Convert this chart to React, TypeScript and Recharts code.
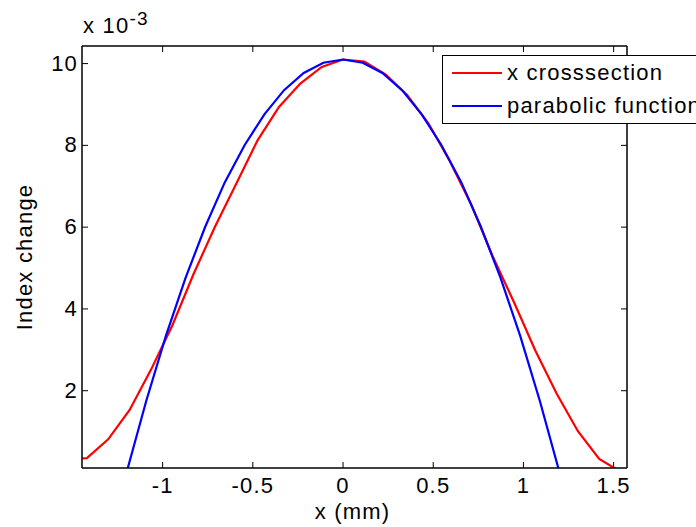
import React from 'react';
import { LineChart, Line, XAxis, YAxis, Legend } from 'recharts';

// x positions (mm) and index change (x 1e-3)
const redX = [
  -1.538, -1.42, -1.302, -1.183, -1.065, -0.947, -0.828, -0.71, -0.592, -0.473, -0.355, -0.237, -0.118,
  0, 0.118, 0.237, 0.355, 0.473, 0.592, 0.71, 0.828, 0.947, 1.065, 1.183, 1.302, 1.42, 1.538,
];
const redY = [
  0.32, 0.35, 0.81, 1.53, 2.51, 3.59, 4.86, 6.01, 7.06, 8.13, 8.94, 9.51, 9.92,
  10.1, 10.05, 9.73, 9.23, 8.54, 7.61, 6.56, 5.3, 4.17, 2.99, 1.94, 1.01, 0.33, 0.02,
];
const blueX = [
  -1.2, -1.091, -0.982, -0.873, -0.764, -0.655, -0.545, -0.436, -0.327, -0.218, -0.109,
  0, 0.109, 0.218, 0.327, 0.436, 0.545, 0.655, 0.764, 0.873, 0.982, 1.091, 1.2,
];
const blueY = [
  0, 1.75, 3.34, 4.76, 6.01, 7.1, 8.01, 8.76, 9.35, 9.77, 10.02,
  10.1, 10.02, 9.77, 9.35, 8.76, 8.01, 7.1, 6.01, 4.76, 3.34, 1.75, 0,
];
const seriesNames = ['x crosssection', 'parabolic function'];
const seriesColors = ['#ff0000', '#0000ff'];
const xTicks = [-1, -0.5, 0, 0.5, 1, 1.5];
const yTicks = [2, 4, 6, 8, 10];

const redData = redX.map((x, i) => ({ x, y: redY[i] }));
const blueData = blueX.map((x, i) => ({ x, y: blueY[i] }));

const X_DOMAIN: [number, number] = [-1.447, 1.574];
const Y_DOMAIN: [number, number] = [0.11, 10.43];

const FONT = '"Liberation Sans", Arial, Helvetica, sans-serif';
const TICK_LEN = 6;
const textStyle: React.CSSProperties = { fontFamily: FONT, fontSize: 22, letterSpacing: 1.2, fill: '#000' };

// MATLAB-style inward ticks
function BottomTick({ x, y, payload }: any) {
  return (
    <g>
      <line x1={x} y1={y} x2={x} y2={y - TICK_LEN} stroke="#000" strokeWidth={1} />
      <text x={x} y={y + 25} textAnchor="middle" style={textStyle}>{String(payload.value)}</text>
    </g>
  );
}

function TopTick({ x, y }: any) {
  return <line x1={x} y1={y} x2={x} y2={y + TICK_LEN} stroke="#000" strokeWidth={1} />;
}

function LeftTick({ x, y, payload }: any) {
  return (
    <g>
      <line x1={x} y1={y} x2={x + TICK_LEN} y2={y} stroke="#000" strokeWidth={1} />
      <text x={x - 4} y={y + 7} textAnchor="end" style={textStyle}>{String(payload.value)}</text>
    </g>
  );
}

function RightTick({ x, y }: any) {
  return <line x1={x} y1={y} x2={x - TICK_LEN} y2={y} stroke="#000" strokeWidth={1} />;
}

function LegendBox({ payload }: any) {
  // keep the plotting order (red first), not alphabetical
  const items = [...(payload || [])].sort(
    (a: any, b: any) => seriesNames.indexOf(a.value) - seriesNames.indexOf(b.value)
  );
  return (
    <div
      style={{
        border: '1.5px solid #000',
        background: '#fff',
        width: 300,
        height: 67,
        fontFamily: FONT,
        fontSize: 22,
        letterSpacing: 1.2,
        color: '#000',
      }}
    >
      {items.map((p: any) => (
        <div key={p.value} style={{ display: 'flex', alignItems: 'center', height: 33 }}>
          <span style={{ display: 'inline-block', width: 50, height: 2, background: p.color, marginLeft: 9, marginRight: 5 }} />
          <span style={{ whiteSpace: 'nowrap', lineHeight: '33px' }}>{p.value}</span>
        </div>
      ))}
    </div>
  );
}

export default function App() {
  return (
    <div style={{ position: 'absolute', left: 0, top: 0, width: 696, height: 527, overflow: 'hidden', background: '#fff' }}>
      <LineChart width={696} height={527} margin={{ top: 45, right: 68, bottom: 0, left: 0 }}>
        <XAxis
          type="number"
          dataKey="x"
          domain={X_DOMAIN}
          allowDataOverflow
          ticks={xTicks}
          interval={0}
          height={59}
          tickSize={0}
          tickMargin={0}
          tickLine={false}
          tick={<BottomTick />}
          axisLine={{ stroke: '#000', strokeWidth: 1.5 }}
          label={{
            content: ({ viewBox }: any) => (
              <text x={viewBox.x + viewBox.width / 2 - 2} y={viewBox.y + 51} textAnchor="middle" style={textStyle}>
                x (mm)
              </text>
            ),
          }}
        />
        <XAxis
          xAxisId="top"
          orientation="top"
          type="number"
          dataKey="x"
          domain={X_DOMAIN}
          allowDataOverflow
          ticks={xTicks}
          interval={0}
          height={1}
          tickSize={0}
          tickMargin={0}
          tickLine={false}
          tick={<TopTick />}
          axisLine={{ stroke: '#000', strokeWidth: 1.5 }}
          label={{
            content: ({ viewBox }: any) => (
              <text x={viewBox.x + 1} y={viewBox.y - 12} style={textStyle}>
                x 10
                <tspan dy={-8} style={{ fontSize: 19 }}>-3</tspan>
              </text>
            ),
          }}
        />
        <YAxis
          type="number"
          domain={Y_DOMAIN}
          allowDataOverflow
          ticks={yTicks}
          interval={0}
          width={82}
          tickSize={0}
          tickMargin={0}
          tickLine={false}
          tick={<LeftTick />}
          axisLine={{ stroke: '#000', strokeWidth: 1.5 }}
          label={{
            content: ({ viewBox }: any) => {
              const cx = viewBox.x + 24;
              const cy = viewBox.y + viewBox.height / 2;
              return (
                <text x={cx} y={cy} transform={`rotate(-90, ${cx}, ${cy})`} textAnchor="middle" dominantBaseline="central" style={textStyle}>
                  Index change
                </text>
              );
            },
          }}
        />
        <YAxis
          yAxisId="right"
          orientation="right"
          type="number"
          domain={Y_DOMAIN}
          allowDataOverflow
          ticks={yTicks}
          interval={0}
          width={1}
          tickSize={0}
          tickMargin={0}
          tickLine={false}
          tick={<RightTick />}
          axisLine={{ stroke: '#000', strokeWidth: 1.5 }}
        />
        <Legend
          layout="horizontal"
          verticalAlign="middle"
          align="center"
          wrapperStyle={{ left: 442, top: 55, width: 300 }}
          content={<LegendBox />}
        />
        <Line
          data={redData}
          dataKey="y"
          name={seriesNames[0]}
          type="linear"
          stroke={seriesColors[0]}
          strokeWidth={2.2}
          dot={false}
          activeDot={false}
          isAnimationActive={false}
        />
        <Line
          data={blueData}
          dataKey="y"
          name={seriesNames[1]}
          type="linear"
          stroke={seriesColors[1]}
          strokeWidth={2.2}
          dot={false}
          activeDot={false}
          isAnimationActive={false}
        />
      </LineChart>
    </div>
  );
}
